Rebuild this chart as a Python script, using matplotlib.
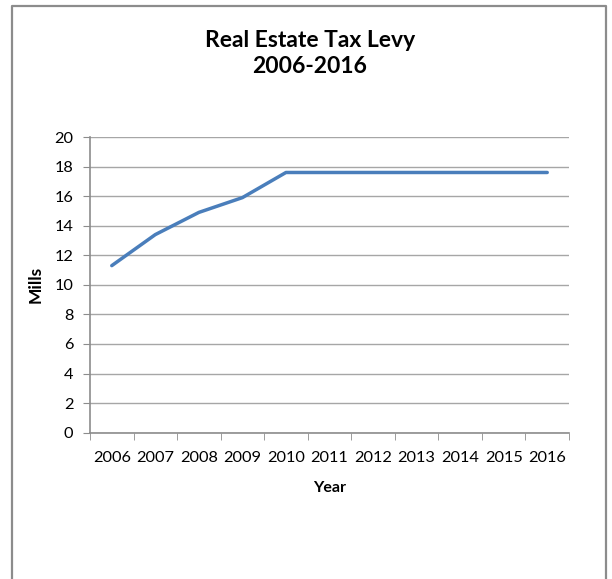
import matplotlib.pyplot as plt
from matplotlib.lines import Line2D

years = ['2006', '2007', '2008', '2009', '2010', '2011', '2012', '2013', '2014', '2015', '2016']
mills = [11.3, 13.4, 14.9, 15.9, 17.6, 17.6, 17.6, 17.6, 17.6, 17.6, 17.6]
y_ticks = [0, 2, 4, 6, 8, 10, 12, 14, 16, 18, 20]

plt.rcParams['font.family'] = ['Lato', 'DejaVu Sans']
W, H = 612, 579
fig = plt.figure(figsize=(W / 100, H / 100), dpi=100)

# chart frame (open at the bottom, as in the reference)
gray = '#8c8c8c'
fig.add_artist(Line2D([11.5 / W, 11.5 / W, 606 / W, 606 / W],
                      [0, 1 - 5.5 / H, 1 - 5.5 / H, 0],
                      color=gray, lw=1.6, transform=fig.transFigure))

ax = fig.add_axes([90 / W, (H - 432.7) / H, (569 - 90) / W, (432.7 - 137) / H])
x = list(range(len(years)))
ax.plot(x, mills, color='#4a7ebb', lw=2.5, solid_capstyle='round')

ax.set_xlim(-0.5, len(years) - 0.5)
ax.set_ylim(0, 20)
ax.set_yticks(y_ticks)
ax.set_xticks(x)
ax.set_xticklabels(years)
ax.set_xticks([i - 0.5 for i in range(len(years) + 1)], minor=True)
ax.tick_params(axis='x', which='major', length=0, pad=13, labelsize=11.8)
ax.tick_params(axis='x', which='minor', length=5, color=gray, direction='out')
ax.tick_params(axis='y', length=5, color=gray, labelsize=11.8, pad=7)
ax.grid(axis='y', color='#a6a6a6', lw=1)
ax.set_axisbelow(True)
for s in ['top', 'right']:
    ax.spines[s].set_visible(False)
for s in ['left', 'bottom']:
    ax.spines[s].set_color(gray)
    ax.spines[s].set_linewidth(1.2)

ax.set_xlabel('Year', fontsize=11.5, fontweight='bold', labelpad=12)
ax.set_ylabel('Mills', fontsize=12.5, fontweight='bold', labelpad=8)
fig.text(310 / W, 1 - 53.5 / H, 'Real Estate Tax Levy\n2006-2016', ha='center', va='center',
         fontsize=16.5, fontweight='bold', linespacing=1.3)

fig.savefig('out.png', dpi=100)
